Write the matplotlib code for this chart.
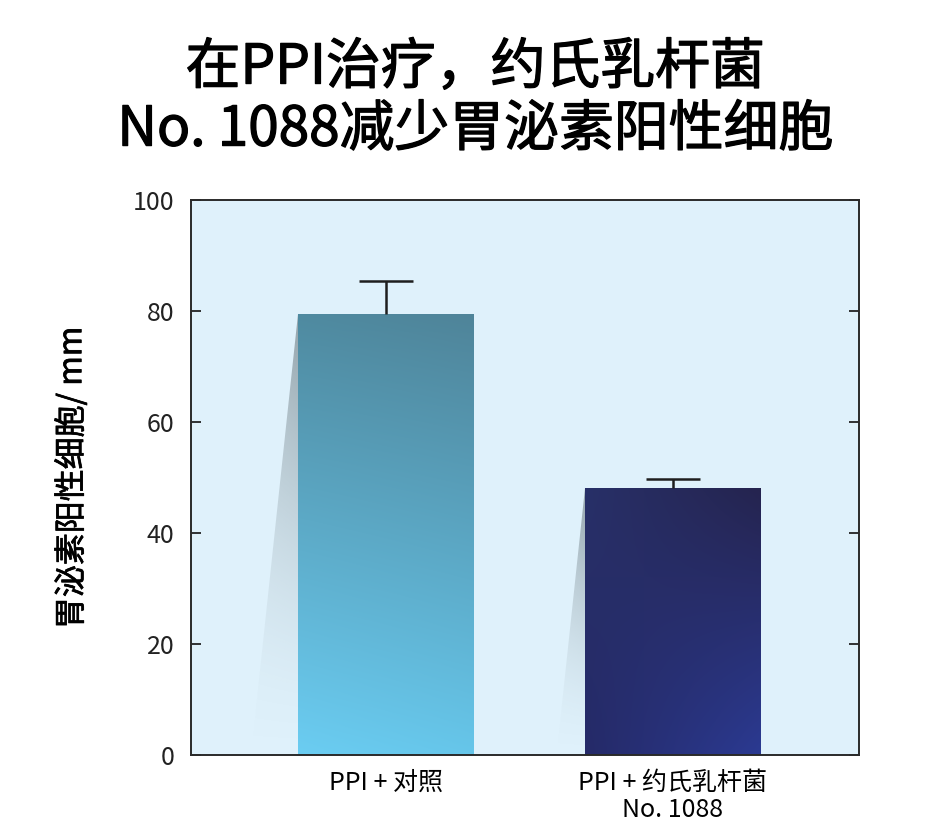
import numpy as np
import matplotlib
matplotlib.use('Agg')
import matplotlib.pyplot as plt
import matplotlib.patheffects as pe
from matplotlib.patches import Polygon
from matplotlib.colors import to_rgb

plt.rcParams['font.family'] = ['Noto Sans CJK SC', 'DejaVu Sans']

# data
title_lines = ['在PPI治疗，约氏乳杆菌', 'No. 1088减少胃泌素阳性细胞']
groups = ['PPI + 对照', 'PPI + 约氏乳杆菌\nNo. 1088']
means = [79.5, 48.1]
errors = [5.9, 1.6]
y_ticks = [0, 20, 40, 60, 80, 100]
y_label = '胃泌素阳性细胞/ mm'

# styling
BG = '#dff1fb'
BAR_W = 0.61
CAP_HALF = 0.094
# (top-left, top-right, bottom-left, bottom-right) colours per bar
BAR_COLORS = [
    ('#4f8aa0', '#4f8499', '#6bcdf2', '#66c6ea'),
    ('#283068', '#25244f', '#252a68', '#2b3a92'),
]
SHADOW_COLOR = '#86959c'


def gradient_image(corners, n=200):
    tl, tr, bl, br = [np.array(to_rgb(c)) for c in corners]
    u = np.linspace(0, 1, n)[None, :, None]
    v = np.linspace(0, 1, n)[:, None, None]
    top = tl * (1 - u) + tr * u
    bot = bl * (1 - u) + br * u
    return top * (1 - v) + bot * v   # row 0 = top


fig = plt.figure(figsize=(9.45, 8.27), dpi=100)
ax = fig.add_axes([0.2021, 0.0871, 0.707, 0.671])
ax.set_facecolor(BG)

x = np.arange(len(groups))
bars = ax.bar(x, means, width=BAR_W, color='none', zorder=2)

for i, bar in enumerate(bars):
    x0 = bar.get_x()
    h = bar.get_height()
    # soft shadow to the left of the bar
    dx = 0.165 * h / 80.0
    shadow = Polygon([(x0, h), (x0 - dx, 0), (x0, 0)], closed=True,
                     facecolor='none', edgecolor='none')
    ax.add_patch(shadow)
    n = 200
    fade = np.linspace(1.0, 0.0, n) ** 1.6
    alpha = 0.85 * fade[:, None] * np.linspace(0.75, 1.0, n)[None, :]
    rgba = np.zeros((n, n, 4))
    rgba[..., :3] = to_rgb(SHADOW_COLOR)
    rgba[..., 3] = alpha
    im = ax.imshow(rgba, extent=(x0 - dx, x0, 0, h), origin='upper',
                   aspect='auto', zorder=1, interpolation='bilinear')
    im.set_clip_path(shadow)
    # gradient fill of the bar
    img = gradient_image(BAR_COLORS[i])
    im2 = ax.imshow(img, extent=(x0, x0 + bar.get_width(), 0, h), origin='upper',
                    aspect='auto', zorder=2.1, interpolation='bilinear')
    im2.set_clip_path(bar)

tops = np.array(means) + np.array(errors)
ax.vlines(x, means, tops, colors='#1e1e1e', linewidth=1.8, zorder=3)
ax.hlines(tops, x - CAP_HALF, x + CAP_HALF, colors='#1e1e1e', linewidth=1.8, zorder=3)

ax.set_xlim(-0.678, 1.65)
ax.set_ylim(0, 100)
ax.set_yticks(y_ticks)
ax.set_xticks(x)
ax.set_xticklabels(groups, fontsize=18, linespacing=1.05)
ax.tick_params(axis='x', length=0, pad=11)
ax.tick_params(axis='y', direction='in', length=7, width=1.3, right=True,
               labelsize=18, pad=12, colors='#222222', labelcolor='#222222')
for s in ax.spines.values():
    s.set_color('#2a2a2a')
    s.set_linewidth(1.4)

# thin stroke gives the regular face a medium-like weight
ylab = ax.set_ylabel(y_label, fontsize=23, labelpad=32)
ylab.set_path_effects([pe.withStroke(linewidth=0.5, foreground='black')])

for yy, line in zip([0.918, 0.843], title_lines):
    t = fig.text(0.503, yy, line, ha='center', va='center', fontsize=39.5)
    t.set_path_effects([pe.withStroke(linewidth=0.9, foreground='black')])

fig.savefig('out.png', dpi=100)
